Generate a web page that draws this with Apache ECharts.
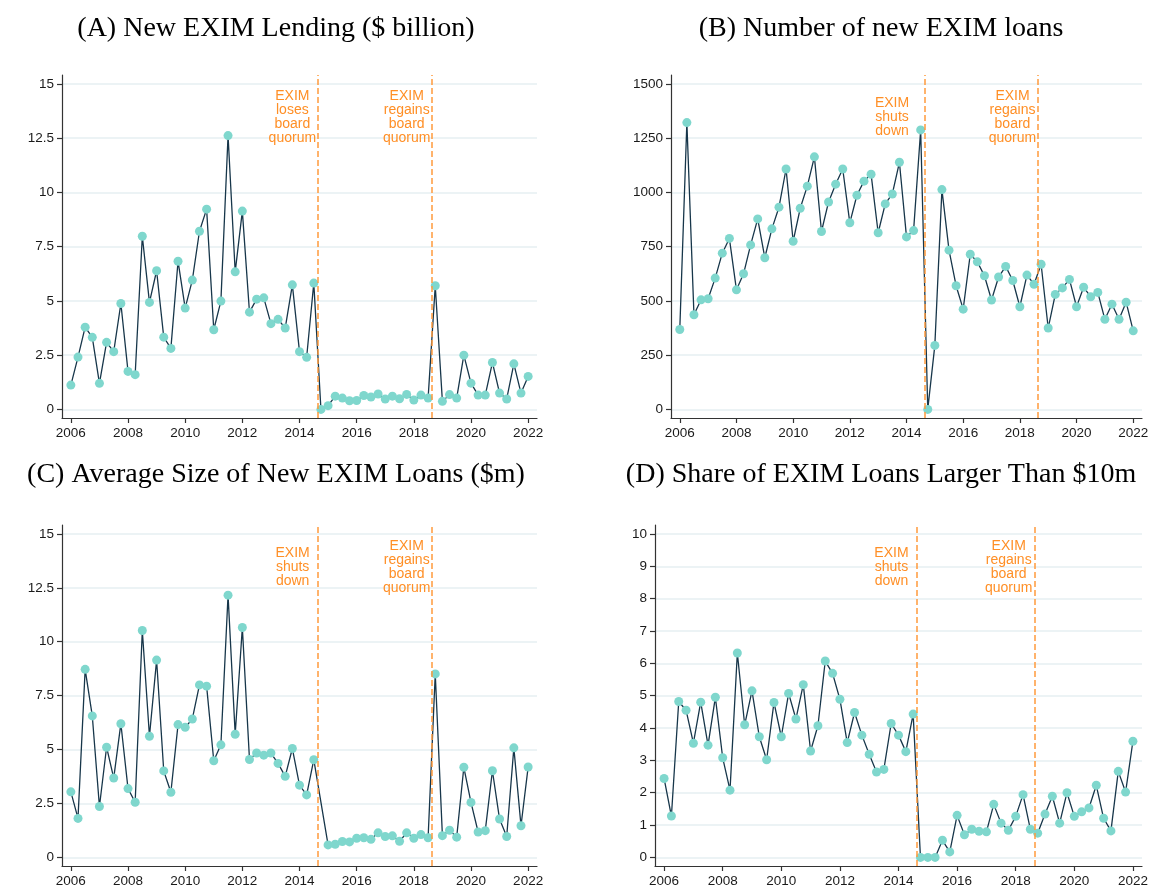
<!DOCTYPE html>
<html>
<head>
<meta charset="utf-8">
<script src="https://cdn.jsdelivr.net/npm/echarts@6/dist/echarts.min.js"></script>
<style>
html, body { margin: 0; padding: 0; background: #fff; }
#chart { width: 1157px; height: 888px; }
</style>
</head>
<body>
<div id="chart"></div>
<script>
// quarterly observations, 2006Q1 .. 2022Q1
var firstYear = 2006;
var nQuarters = 65;

var lendingBn = [1.12, 2.41, 3.79, 3.32, 1.20, 3.09, 2.66, 4.88, 1.75, 1.60, 7.98, 4.93,
    6.39, 3.33, 2.81, 6.83, 4.67, 5.96, 8.21, 9.23, 3.67, 4.99, 12.62, 6.34,
    9.14, 4.48, 5.08, 5.14, 3.95, 4.15, 3.75, 5.74, 2.66, 2.40, 5.82, 0.00,
    0.17, 0.61, 0.52, 0.40, 0.41, 0.64, 0.57, 0.71, 0.48, 0.61, 0.49, 0.69,
    0.43, 0.66, 0.52, 5.70, 0.37, 0.68, 0.52, 2.50, 1.21, 0.66, 0.66, 2.16,
    0.75, 0.48, 2.10, 0.75, 1.52];

var loanCount = [368, 1322, 436, 505, 510, 605, 720, 788, 551, 625, 758, 878,
    699, 832, 932, 1108, 775, 927, 1029, 1164, 820, 956, 1038, 1108,
    860, 987, 1052, 1084, 814, 947, 993, 1139, 795, 824, 1288, 0,
    295, 1013, 734, 570, 462, 715, 680, 616, 504, 610, 659, 594,
    473, 619, 577, 669, 375, 530, 560, 599, 473, 563, 519, 539,
    415, 485, 415, 494, 362];

var avgSizeM = [3.04, 1.81, 8.72, 6.56, 2.36, 5.11, 3.68, 6.20, 3.19, 2.56, 10.52, 5.62,
    9.15, 4.01, 3.02, 6.16, 6.03, 6.42, 8.00, 7.94, 4.48, 5.22, 12.16, 5.71,
    10.66, 4.54, 4.84, 4.74, 4.84, 4.36, 3.76, 5.05, 3.35, 2.90, 4.53, null,
    0.58, 0.61, 0.74, 0.72, 0.89, 0.91, 0.84, 1.14, 0.97, 1.00, 0.75, 1.14,
    0.89, 1.06, 0.91, 8.51, 1.01, 1.26, 0.94, 4.18, 2.55, 1.18, 1.24, 4.02,
    1.78, 0.97, 5.08, 1.47, 4.19];

var shareLarge = [2.44, 1.28, 4.82, 4.55, 3.53, 4.80, 3.47, 4.95, 3.08, 2.08, 6.32, 4.10,
    5.15, 3.73, 3.02, 4.79, 3.73, 5.07, 4.28, 5.34, 3.29, 4.07, 6.07, 5.69,
    4.89, 3.55, 4.48, 3.78, 3.19, 2.64, 2.72, 4.14, 3.78, 3.27, 4.43, 0,
    0, 0, 0.53, 0.17, 1.30, 0.70, 0.87, 0.81, 0.79, 1.64, 1.06, 0.84,
    1.27, 1.94, 0.87, 0.75, 1.34, 1.89, 1.06, 2.00, 1.27, 1.41, 1.53, 2.23,
    1.21, 0.82, 2.66, 2.02, 3.59];

var titles = ['(A) New EXIM Lending ($ billion)', '(B) Number of new EXIM loans',
    '(C) Average Size of New EXIM Loans ($m)', '(D) Share of EXIM Loans Larger Than $10m'];

var xTicks = [2006, 2008, 2010, 2012, 2014, 2016, 2018, 2020, 2022];
var yTicksBn = [0, 2.5, 5, 7.5, 10, 12.5, 15];
var yTicksCount = [0, 250, 500, 750, 1000, 1250, 1500];
var yTicksShare = [0, 1, 2, 3, 4, 5, 6, 7, 8, 9, 10];

var eventDates = [2014.63, 2018.64];
var noteLoses = 'EXIM\nloses\nboard\nquorum';
var noteShuts = 'EXIM\nshuts\ndown';
var noteRegains = 'EXIM\nregains\nboard\nquorum';

var quarters = [];
for (var i = 0; i < nQuarters; i++) quarters.push(firstYear + i / 4);

var sans = 'Liberation Sans';
var orange = '#ff9a3d';

var grids = [
    {left: 62, top: 75, width: 475, height: 343},
    {left: 671, top: 75, width: 471, height: 343},
    {left: 62, top: 525, width: 475, height: 343},
    {left: 655, top: 525, width: 487, height: 343}
];

var panels = [
    {values: lendingBn, ticks: yTicksBn, notes: [[noteLoses, 2013.75], [noteRegains, 2017.75]]},
    {values: loanCount, ticks: yTicksCount, notes: [[noteShuts, 2013.49], [noteRegains, 2017.74]]},
    {values: avgSizeM, ticks: yTicksBn, notes: [[noteShuts, 2013.76], [noteRegains, 2017.75]]},
    {values: shareLarge, ticks: yTicksShare, notes: [[noteShuts, 2013.76], [noteRegains, 2017.76]]}
];

var axisCol = '#333333';
var labelStyle = {fontFamily: sans, fontSize: 13.5, color: '#1a1a1a', margin: 8,
    formatter: function (v) { return String(v); }};

var xAxes = [], yAxes = [], series = [], titleList = [];

panels.forEach(function (p, k) {
    var top = p.ticks[p.ticks.length - 1];
    var yLo = -0.0265 * top, yHi = 1.0275 * top;
    var noteY = yHi - (yHi - yLo) * 42 / 343;

    xAxes.push({
        gridIndex: k, type: 'value', min: 2005.69, max: 2022.31,
        axisLine: {show: true, onZero: false, lineStyle: {color: axisCol, width: 1.2}},
        axisTick: {show: true, length: 5, customValues: xTicks, lineStyle: {color: axisCol, width: 1.2}},
        axisLabel: Object.assign({customValues: xTicks}, labelStyle),
        splitLine: {show: false}
    });
    yAxes.push({
        gridIndex: k, type: 'value', min: yLo, max: yHi,
        axisLine: {show: true, onZero: false, lineStyle: {color: axisCol, width: 1.2}},
        axisTick: {show: true, length: 5, customValues: p.ticks, lineStyle: {color: axisCol, width: 1.2}},
        axisLabel: Object.assign({customValues: p.ticks}, labelStyle),
        splitLine: {show: true, lineStyle: {color: '#e6eff2', width: 1.5}}
    });

    series.push({
        type: 'line', xAxisIndex: k, yAxisIndex: k,
        data: quarters.map(function (q, i) { return [q, p.values[i] == null ? '-' : p.values[i]]; }),
        connectNulls: true,
        symbol: 'circle', symbolSize: 9, showAllSymbol: true,
        lineStyle: {color: '#17364a', width: 1.3},
        itemStyle: {color: '#7fd7cd'},
        markLine: {
            silent: true, symbol: 'none',
            lineStyle: {color: orange, type: [6, 3], width: 1.5},
            label: {show: false},
            data: eventDates.map(function (d) { return {xAxis: d}; })
        },
        markPoint: {
            silent: true, symbol: 'circle', symbolSize: 0,
            label: {show: true, position: 'inside', color: '#ff8f26', fontFamily: sans,
                fontSize: 14, lineHeight: 14, align: 'center', verticalAlign: 'middle'},
            data: p.notes.map(function (n) {
                return {coord: [n[1], noteY], label: {formatter: n[0]}};
            })
        }
    });

    titleList.push({
        text: titles[k], left: k % 2 === 0 ? 276 : 881, top: k < 2 ? 15 : 461,
        textAlign: 'center', padding: 0,
        textStyle: {fontFamily: 'Liberation Serif', fontSize: 28, fontWeight: 'normal', color: '#000'}
    });
});

var chart = echarts.init(document.getElementById('chart'));
chart.setOption({
    animation: false,
    backgroundColor: '#fff',
    title: titleList,
    grid: grids,
    xAxis: xAxes,
    yAxis: yAxes,
    series: series
});
</script>
</body>
</html>
